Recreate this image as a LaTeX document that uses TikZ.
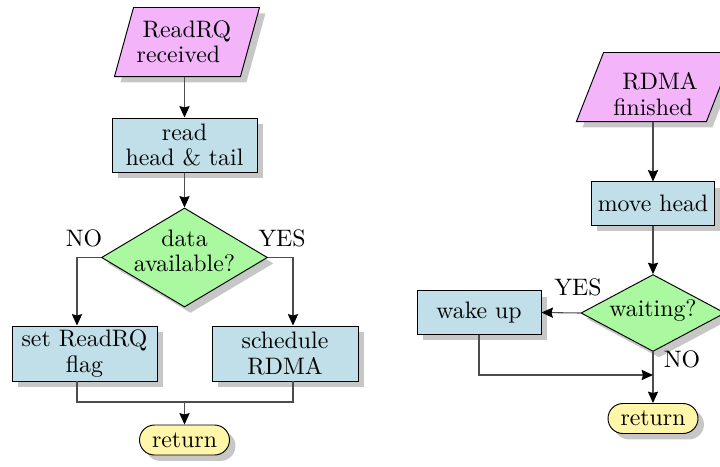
\documentclass[tikz,border=0pt]{standalone}
\usetikzlibrary{shapes.geometric,shadows,arrows.meta}
\definecolor{iofill}{RGB}{244,180,250}
\definecolor{procfill}{RGB}{193,223,233}
\definecolor{decfill}{RGB}{170,248,160}
\definecolor{termfill}{RGB}{255,246,170}
\definecolor{wire}{gray}{0.3}
\begin{document}
\begin{tikzpicture}[x=0.42pt,y=-0.42pt,
  font=\fontsize{10pt}{10.6pt}\selectfont,
  shadowed/.style={drop shadow={shadow xshift=2.5pt,shadow yshift=-2.5pt,fill=black!22,opacity=1}},
  base/.style={draw=black, shadowed, inner sep=0pt, align=center},
  iobody/.style={rectangle, draw=none, inner sep=0pt, minimum height=28.6pt},
  iopath/.style={draw=black, fill=iofill, shadowed},
  proc/.style={base, rectangle, fill=procfill},
  decision/.style={base, diamond, fill=decfill},
  term/.style={base, rectangle, rounded corners=6.3pt, fill=termfill,
    minimum width=37.8pt, minimum height=12.6pt},
  inner/.style={align=center, inner sep=0pt},
  conn/.style={draw=wire, line width=0.45pt},
  arr/.style={conn, -{Stealth[length=4.8pt,width=4.3pt,inset=0.6pt,color=black]}},
]
\path[use as bounding box] (0,0) rectangle (720,466);
\clip (0,0) rectangle (720,466);

% ---- read request handler ----
\node[iobody, minimum width=52.5pt] (in1) at (187,42) {};
\draw[iopath] ([xshift=4pt]in1.north west) -- ([xshift=4pt]in1.north east)
  -- ([xshift=-4pt]in1.south east) -- ([xshift=-4pt]in1.south west) -- cycle;
\node[inner, xshift=-3.6pt] (in1t) at (in1) {\hspace*{7.1pt}ReadRQ\\received};

\node[proc, minimum width=60.9pt, minimum height=22.7pt] (rd) at (184.5,145) {read\\head \& tail};
\node[decision, minimum width=69.7pt, minimum height=41.6pt,
  label={[inner, yshift=2.7pt]center:data\\available?}] (dec1) at (184.5,257.5) {};
\node[proc, minimum width=60.9pt, minimum height=23.1pt] (set) at (84.5,353.5) {set ReadRQ\\flag};
\node[proc, minimum width=61.3pt, minimum height=23.1pt] (sched) at (285,353.5) {schedule\\RDMA};
\node[term] (ret1) at (184.5,440) {return};
\node (lno) at (84,238) {NO};
\node (lyes) at (282,238) {YES};

\coordinate (xl) at (77,0);
\coordinate (xr) at (293,0);
\coordinate (jn) at (184.5,402);

\draw[arr] (in1.south -| rd.north) -- (rd.north);
\draw[arr] (rd.south) -- (dec1.north);
\draw[arr] (dec1.west) -| (set.north -| xl);
\draw[arr] (dec1.east) -| (sched.north -| xr);
\draw[conn] (set.south -| xl) |- (jn) -| (sched.south -| xr);
\draw[arr] (jn) -- (ret1.north);

% ---- RDMA completion handler ----
\node[iobody, minimum width=54.2pt] (in2) at (655,87) {};
\draw[iopath] ([xshift=5.7pt]in2.north west) -- ([xshift=5.7pt]in2.north east)
  -- ([xshift=-5.7pt]in2.south east) -- ([xshift=-5.7pt]in2.south west) -- cycle;
\node[inner, xshift=-0.8pt, yshift=-3pt] (in2t) at (in2) {\hspace*{5.9pt}RDMA\\finished};

\node[proc, minimum width=51.7pt, minimum height=18.1pt] (mv) at (653,203.5) {move head};
\node[decision, minimum width=60.5pt, minimum height=32.3pt,
  label={[inner, yshift=1pt]center:waiting?}] (dec2) at (653,313) {};
\node[proc, minimum width=52.1pt, minimum height=18.1pt] (wake) at (479,312.5) {wake up};
\node[term] (ret2) at (653,418.5) {return};
\node (ryes) at (578,287) {YES};
\node (rno) at (682,359) {NO};

\coordinate (jr) at (653,375);

\draw[arr] (in2.south -| mv.north) -- (mv.north);
\draw[arr] (mv.south) -- (dec2.north);
\draw[arr] (dec2.west) -- (wake.east);
\draw[arr] (dec2.south) -- (ret2.north);
\draw[arr] (wake.south) |- (jr);
\end{tikzpicture}
\end{document}
